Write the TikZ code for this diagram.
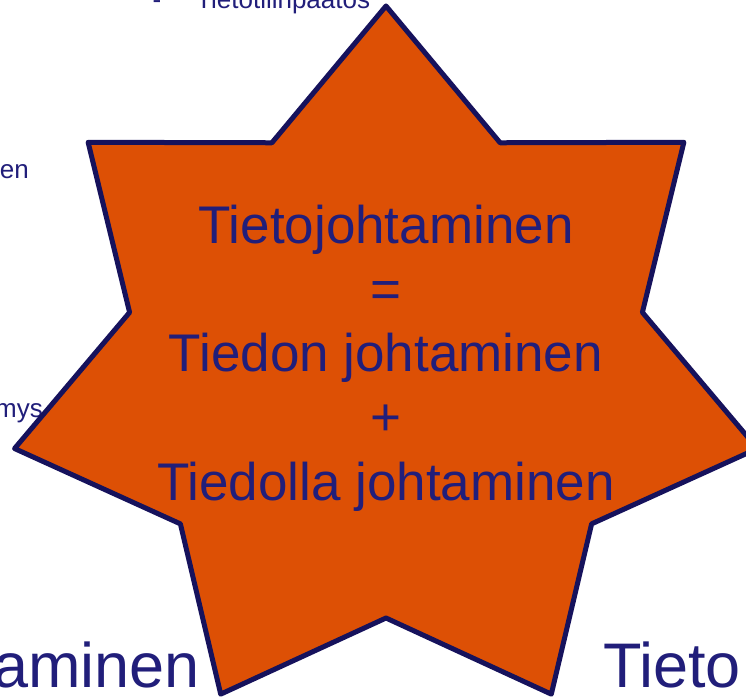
\documentclass[tikz,border=0pt]{standalone}
\usepackage{fontspec}
\setmainfont{Liberation Sans}

\definecolor{starfill}{RGB}{221,80,5}
\definecolor{starline}{RGB}{22,18,92}
\definecolor{navytext}{RGB}{33,30,122}

\begin{document}
\begin{tikzpicture}[
    x=1pt, y=1pt,
    bgsmall/.style={text=navytext, font=\fontsize{26}{31}\selectfont, inner sep=0pt},
    bglarge/.style={text=navytext, font=\fontsize{63}{75}\selectfont, inner sep=0pt},
    starshape/.style={draw=starline, fill=starfill, line width=5pt, line join=round},
    centretext/.style={text=navytext, font=\fontsize{53}{64.25}\selectfont, align=center}
]
    \useasboundingbox (0,0) rectangle (746,697);
    % slide text lying behind the star
    \node[bgsmall, anchor=base] (dash) at (157,688) {-};
    \node[bgsmall, anchor=base west] (report) at (196,688) {Tietotilinpäätös};
    \node[bgsmall, anchor=base east] (lefttop) at (29,518) {en};
    \node[bgsmall, anchor=base east] (leftmid) at (43,280) {mys};
    \node[bglarge, anchor=base east] (leftbottom) at (200,10) {aminen};
    \node[bglarge, anchor=base west] (rightbottom) at (603,10) {Tieto};
    % the seven-pointed star
    \begin{scope}[shift={(386,329)}]
        \draw[starshape] (90:381pt and 362pt)
            \foreach \i [evaluate=\i as \a using 90+\i*360/14,
                         evaluate=\i as \rx using {mod(\i,2)==0 ? 381 : 263},
                         evaluate=\i as \ry using {mod(\i,2)==0 ? 362 : 250}] in {1,...,13} {
                -- (\a:\rx pt and \ry pt)
            } -- cycle;
    \end{scope}
    \node[centretext] (formula) at (386,339) {Tietojohtaminen\\=\\Tiedon johtaminen\\+\\Tiedolla johtaminen};
\end{tikzpicture}
\end{document}
